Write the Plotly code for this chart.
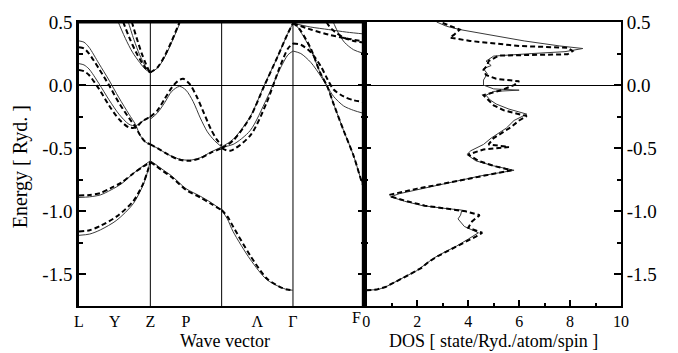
import plotly.graph_objects as go

# ---------------- band structure data (k path: L=0, Z=1, X=2, Gamma=3, F=4) ----------------
# Each band: (k points, energies in Ryd.) ; drawn per segment between symmetry points.

# L - Z
lz_solid = [
    ([0, 0.15, 0.3, 0.53, 0.76, 0.9, 0.96, 1.0], [-1.19, -1.18, -1.147, -1.07, -0.94, -0.79, -0.69, -0.60]),
    ([0, 0.15, 0.3, 0.45, 0.6, 0.76, 0.9, 1.0], [-0.89, -0.885, -0.87, -0.83, -0.78, -0.70, -0.64, -0.60]),
    ([0, 0.07, 0.14, 0.28, 0.42, 0.56, 0.70, 0.79, 0.86, 0.93, 1.0], [0.35, 0.34, 0.30, 0.17, 0.04, -0.10, -0.23, -0.31, -0.40, -0.45, -0.47]),
    ([0, 0.07, 0.14, 0.28, 0.42, 0.56, 0.70, 0.795, 0.88, 1.0], [0.17, 0.16, 0.128, 0.012, -0.116, -0.23, -0.31, -0.322, -0.29, -0.25]),
    ([0.51, 0.55, 0.65, 0.75, 0.85, 0.93, 1.0], [0.56, 0.5, 0.37, 0.26, 0.18, 0.125, 0.10]),
    ([0.65, 0.69, 0.77, 0.85, 0.92, 0.97, 1.0], [0.56, 0.5, 0.36, 0.24, 0.16, 0.115, 0.10]),
]
lz_dashed = [
    ([0, 0.15, 0.3, 0.53, 0.76, 0.9, 0.96, 1.0], [-1.16, -1.15, -1.115, -1.04, -0.92, -0.78, -0.685, -0.61]),
    ([0, 0.15, 0.3, 0.45, 0.6, 0.76, 0.9, 1.0], [-0.875, -0.87, -0.855, -0.815, -0.77, -0.70, -0.645, -0.61]),
    ([0, 0.07, 0.14, 0.28, 0.42, 0.56, 0.70, 0.79, 0.86, 0.93, 1.0], [0.30, 0.29, 0.25, 0.13, 0.0, -0.14, -0.26, -0.33, -0.40, -0.45, -0.47]),
    ([0, 0.07, 0.14, 0.28, 0.42, 0.56, 0.70, 0.795, 0.88, 1.0], [0.12, 0.11, 0.08, -0.03, -0.16, -0.27, -0.335, -0.335, -0.29, -0.25]),
    ([0.58, 0.62, 0.71, 0.8, 0.88, 0.94, 1.0], [0.56, 0.5, 0.37, 0.26, 0.18, 0.13, 0.10]),
    ([0.70, 0.74, 0.81, 0.88, 0.94, 0.98, 1.0], [0.56, 0.5, 0.37, 0.25, 0.165, 0.115, 0.10]),
]

# Z - X
zx_solid = [
    ([1.0, 1.08, 1.15, 1.3, 1.5, 1.7, 1.85, 2.0], [-0.60, -0.63, -0.66, -0.72, -0.82, -0.88, -0.93, -0.99]),
    ([1.0, 1.1, 1.25, 1.4, 1.55, 1.7, 1.85, 2.0], [-0.47, -0.50, -0.55, -0.585, -0.595, -0.575, -0.53, -0.49]),
    ([1.0, 1.1, 1.2, 1.3, 1.41, 1.5, 1.6, 1.7, 1.8, 1.9, 2.0], [-0.27, -0.22, -0.14, -0.05, -0.01, -0.04, -0.13, -0.26, -0.37, -0.44, -0.49]),
    ([1.0, 1.1, 1.2, 1.3, 1.42, 1.46], [0.10, 0.135, 0.22, 0.34, 0.5, 0.56]),
]
zx_dashed = [
    ([1.0, 1.08, 1.15, 1.3, 1.5, 1.7, 1.85, 2.0], [-0.61, -0.64, -0.67, -0.73, -0.83, -0.89, -0.94, -0.99]),
    ([1.0, 1.1, 1.25, 1.4, 1.55, 1.7, 1.85, 2.0], [-0.47, -0.50, -0.55, -0.59, -0.60, -0.58, -0.535, -0.50]),
    ([1.0, 1.1, 1.2, 1.3, 1.38, 1.46, 1.55, 1.65, 1.75, 1.85, 1.93, 2.0], [-0.25, -0.20, -0.11, -0.02, 0.03, 0.05, 0.01, -0.09, -0.22, -0.35, -0.43, -0.48]),
    ([1.0, 1.1, 1.2, 1.3, 1.41, 1.45], [0.10, 0.14, 0.23, 0.35, 0.5, 0.56]),
]

# X - Gamma
xg_solid = [
    ([2.0, 2.08, 2.16, 2.4, 2.63, 2.82, 2.92, 3.0], [-0.99, -1.06, -1.16, -1.38, -1.54, -1.60, -1.62, -1.625]),
    ([2.0, 2.16, 2.4, 2.59, 2.78, 2.92, 3.0], [-0.49, -0.43, -0.25, -0.01, 0.22, 0.40, 0.49]),
    ([2.0, 2.16, 2.4, 2.63, 2.82, 2.93, 3.0], [-0.49, -0.47, -0.36, -0.11, 0.13, 0.24, 0.27]),
]
xg_dashed = [
    ([2.0, 2.08, 2.16, 2.4, 2.63, 2.82, 2.92, 3.0], [-0.99, -1.04, -1.12, -1.35, -1.53, -1.60, -1.62, -1.625]),
    ([2.0, 2.16, 2.4, 2.59, 2.78, 2.92, 3.0], [-0.50, -0.44, -0.255, -0.015, 0.22, 0.40, 0.49]),
    ([2.0, 2.12, 2.4, 2.63, 2.82, 2.93, 3.0], [-0.50, -0.52, -0.40, -0.14, 0.15, 0.29, 0.33]),
]

# Gamma - F
gf_solid = [
    ([3.0, 3.25, 3.5, 3.75, 4.0], [0.49, 0.46, 0.44, 0.42, 0.405]),
    ([3.53, 3.565, 3.63, 3.72, 3.85, 4.0], [0.56, 0.5, 0.42, 0.34, 0.28, 0.25]),
    ([3.0, 3.11, 3.25, 3.39, 3.48, 3.57, 3.71, 3.85, 4.0], [0.27, 0.25, 0.18, 0.07, -0.01, -0.09, -0.165, -0.20, -0.225]),
    ([3.0, 3.05, 3.11, 3.25, 3.38, 3.48, 3.57, 3.71, 3.85, 3.96, 4.0], [0.49, 0.47, 0.42, 0.28, 0.10, -0.01, -0.15, -0.36, -0.56, -0.76, -0.82]),
]
gf_dashed = [
    ([3.0, 3.25, 3.5, 3.75, 4.0], [0.49, 0.44, 0.40, 0.37, 0.345]),
    ([3.44, 3.47, 3.55, 3.7, 3.85, 4.0], [0.56, 0.5, 0.44, 0.38, 0.35, 0.335]),
    ([3.0, 3.11, 3.25, 3.39, 3.48, 3.57, 3.71, 3.85, 4.0], [0.33, 0.32, 0.26, 0.15, 0.05, -0.035, -0.09, -0.12, -0.135]),
    ([3.0, 3.05, 3.11, 3.25, 3.38, 3.48, 3.57, 3.71, 3.85, 3.96, 4.0], [0.49, 0.47, 0.43, 0.29, 0.10, -0.01, -0.15, -0.36, -0.56, -0.76, -0.82]),
]

# ---------------- density of states ----------------
dos_E_solid = [-1.625, -1.62, -1.60, -1.57, -1.52, -1.47, -1.42, -1.37, -1.32, -1.275, -1.22, -1.17,
               -1.12, -1.06, -1.03, -0.99, -0.975, -0.955, -0.92, -0.885, -0.86, -0.84, -0.79, -0.75,
               -0.72, -0.675, -0.64, -0.60, -0.55, -0.52, -0.47, -0.42, -0.38, -0.34, -0.28, -0.25,
               -0.23, -0.19, -0.15, -0.116, -0.08, -0.05, -0.04, -0.03, 0.0, 0.04, 0.09, 0.13, 0.155,
               0.19, 0.23, 0.25, 0.265, 0.29, 0.31, 0.35, 0.39, 0.427, 0.44, 0.466, 0.5]
dos_solid = [0.0, 0.45, 0.75, 1.05, 1.5, 1.98, 2.3, 2.65, 3.1, 3.55, 4.0, 4.4,
             3.85, 3.6, 3.7, 3.75, 3.0, 2.2, 1.5, 0.95, 1.3, 1.75, 2.9, 3.8,
             4.46, 5.8, 5.0, 4.3, 3.95, 4.1, 4.6, 4.9, 5.2, 5.5, 5.8, 6.1,
             6.3, 5.6, 5.1, 4.85, 4.7, 5.0, 6.0, 5.0, 4.6, 4.6, 4.75, 4.6, 4.9,
             4.7, 5.0, 6.5, 7.8, 8.5, 7.6, 6.2, 5.0, 4.07, 3.67, 3.15, 2.76]

dos_E_dashed = [-1.625, -1.62, -1.60, -1.56, -1.50, -1.45, -1.40, -1.35, -1.30, -1.25, -1.20, -1.17,
                -1.13, -1.08, -1.03, -1.0, -0.975, -0.955, -0.92, -0.885, -0.87, -0.85, -0.82, -0.79,
                -0.75, -0.72, -0.675, -0.64, -0.60, -0.55, -0.51, -0.49, -0.47, -0.42, -0.38, -0.33,
                -0.28, -0.245, -0.20, -0.16, -0.12, -0.08, -0.04, 0.0, 0.03, 0.05, 0.08, 0.12, 0.157,
                0.19, 0.234, 0.244, 0.27, 0.296, 0.31, 0.35, 0.376, 0.40, 0.44, 0.5]
dos_dashed = [0.0, 0.4, 0.75, 1.15, 1.7, 2.15, 2.45, 2.85, 3.35, 3.85, 4.3, 4.55,
              4.0, 4.15, 4.45, 3.9, 3.1, 2.3, 1.6, 1.0, 0.9, 1.3, 2.0, 2.8,
              3.8, 4.5, 5.7, 5.0, 4.4, 4.0, 4.6, 5.6, 4.8, 5.0, 5.3, 5.7,
              6.0, 6.3, 5.4, 5.0, 4.8, 4.6, 5.3, 5.8, 6.0, 5.1, 4.7, 4.6, 4.75,
              4.8, 5.2, 7.9, 8.1, 7.9, 6.0, 4.07, 3.28, 3.45, 3.67, 2.9]

# ---------------- axis labels ----------------
kpoint_vals = [0, 0.5, 1, 1.5, 2.5, 3]
kpoint_text = ["L", "Y", "Z", "P", "Λ", "Γ"]
energy_ticks = [-1.5, -1.0, -0.5, 0.0, 0.5]
energy_text = ["-1.5", "-1.0", "-0.5", "0.0", "0.5"]
energy_minor = [-1.75, -1.25, -0.75, -0.25, 0.25]
dos_ticks = [0, 2, 4, 6, 8, 10]
dos_minor = [1, 3, 5, 7, 9]
sym_lines = [1, 2, 3]

FONT = "Liberation Serif"
SOLID = dict(color="#3a3a3a", width=1, shape="spline", smoothing=0.8)
DASHED = dict(color="black", width=2, dash="5px,3px", shape="spline", smoothing=0.8)

fig = go.Figure()

for group, style in [(lz_solid, SOLID), (zx_solid, SOLID), (xg_solid, SOLID), (gf_solid, SOLID),
                     (lz_dashed, DASHED), (zx_dashed, DASHED), (xg_dashed, DASHED), (gf_dashed, DASHED)]:
    for k, e in group:
        fig.add_trace(go.Scatter(x=k, y=e, mode="lines", line=style, xaxis="x", yaxis="y",
                                 showlegend=False, hoverinfo="skip"))

fig.add_trace(go.Scatter(x=dos_solid, y=dos_E_solid, mode="lines",
                         line=dict(color="#3a3a3a", width=1), xaxis="x2", yaxis="y2",
                         showlegend=False, hoverinfo="skip"))
fig.add_trace(go.Scatter(x=dos_dashed, y=dos_E_dashed, mode="lines",
                         line=dict(color="black", width=2, dash="5px,3px"), xaxis="x2", yaxis="y2",
                         showlegend=False, hoverinfo="skip"))

tickfont = dict(family=FONT, size=19, color="black")
kfont = dict(family=FONT, size=16, color="black")
titlefont = dict(family=FONT, size=18, color="black")
split = 0.5264

fig.update_layout(
    width=678, height=353,
    margin=dict(l=79, r=57, t=14, b=47),
    paper_bgcolor="white", plot_bgcolor="white",
    font=dict(family=FONT, color="black"),
    xaxis=dict(domain=[0, split], range=[0, 4], showgrid=False, zeroline=False,
               showline=True, linecolor="black", linewidth=2, mirror=True,
               tickmode="array", tickvals=kpoint_vals, ticktext=kpoint_text,
               ticks="", tickfont=kfont, ticklabelstandoff=0),
    xaxis2=dict(domain=[split, 1], range=[-0.08, 10], anchor="y2", showgrid=False, zeroline=False,
                showline=True, linecolor="black", linewidth=2, mirror=True,
                tickmode="array", tickvals=dos_ticks, ticktext=[str(v) for v in dos_ticks],
                ticks="inside", ticklen=6, tickwidth=1.5, tickcolor="black", tickfont=kfont,
                minor=dict(tickvals=dos_minor, ticks="inside", ticklen=3, tickcolor="black", tickwidth=1.5)),
    yaxis=dict(domain=[0, 1], range=[-1.75, 0.5], anchor="x", showgrid=False,
               zeroline=True, zerolinecolor="black", zerolinewidth=1,
               showline=True, linecolor="black", linewidth=2.5, mirror="ticks",
               tickmode="array", tickvals=energy_ticks, ticktext=energy_text,
               ticks="inside", ticklen=7, tickwidth=1.5, tickcolor="black", tickfont=tickfont,
               minor=dict(tickvals=energy_minor, ticks="inside", ticklen=4, tickcolor="black", tickwidth=1.5)),
    yaxis2=dict(domain=[0, 1], range=[-1.75, 0.5], anchor="x2", side="right", showgrid=False,
                zeroline=True, zerolinecolor="black", zerolinewidth=1,
                showline=True, linecolor="black", linewidth=2, mirror="ticks",
                tickmode="array", tickvals=energy_ticks, ticktext=energy_text,
                ticks="inside", ticklen=7, tickwidth=1.5, tickcolor="black", tickfont=tickfont,
                minor=dict(tickvals=energy_minor, ticks="inside", ticklen=4, tickcolor="black", tickwidth=1.5)),
)

# thin vertical lines at the symmetry points Z, X and Gamma
for xv in sym_lines:
    fig.add_shape(type="line", xref="x", yref="y domain", x0=xv, x1=xv, y0=0, y1=1,
                  line=dict(color="black", width=1), layer="below")
# heavy separator between band panel and DOS panel
fig.add_shape(type="line", xref="x", yref="y domain", x0=4, x1=4, y0=0, y1=1,
              line=dict(color="black", width=5), layer="above")
# heavy top frame over the band panel
fig.add_shape(type="line", xref="x", yref="y", x0=0, x1=4, y0=0.5, y1=0.5,
              line=dict(color="black", width=3), layer="above")

# F label sits just left of the separator
fig.add_annotation(text="F", xref="x", yref="paper", x=4, y=0, xanchor="right", yanchor="top",
                   xshift=-1, yshift=-1, showarrow=False, font=kfont)

# axis titles
fig.add_annotation(text="Energy [ Ryd. ]", xref="paper", yref="paper", x=-0.108, y=0.49,
                   textangle=-90, showarrow=False, xanchor="center", yanchor="middle",
                   font=dict(family=FONT, size=20, color="black"))
fig.add_annotation(text="Wave vector", xref="x", yref="paper", x=2.05, y=0, yshift=-47,
                   xanchor="center", yanchor="bottom", showarrow=False, font=titlefont)
fig.add_annotation(text="DOS [ state/Ryd./atom/spin ]", xref="x2", yref="paper", x=5.0, y=0, yshift=-47,
                   xanchor="center", yanchor="bottom", showarrow=False, font=titlefont)

fig.write_html("out.html")
